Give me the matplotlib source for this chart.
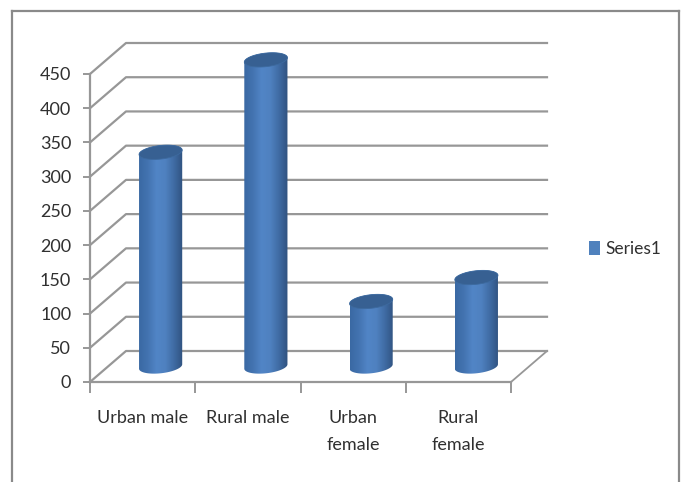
import numpy as np
import matplotlib
matplotlib.use("Agg")
import matplotlib.pyplot as plt
from matplotlib.colors import LinearSegmentedColormap
from matplotlib.lines import Line2D
from matplotlib.patches import Patch, Polygon

categories = ["Urban male", "Rural male", "Urban\nfemale", "Rural\nfemale"]
values = [313, 448, 95, 130]
y_ticks = [0, 50, 100, 150, 200, 250, 300, 350, 400, 450]
series_name = "Series1"

W, H = 684, 482
GRID = "#979797"
TEXT = "#303030"
plt.rcParams["font.family"] = ["Lato", "DejaVu Sans"]

fig = plt.figure(figsize=(W / 100, H / 100), dpi=100)
ax = fig.add_axes([90 / W, (H - 382) / H, 421 / W, 308 / H])
ax.set_xlim(0, 4)
ax.set_ylim(0, 450)

# floor depth, in data units
depth_x = 36 / (421 / 4)
depth_y = 31 / (308 / 450)

# outer chart frame
for xs, ys in [([12, 12], [H, 11]), ([12, 679], [11, 11]), ([679, 679], [11, H])]:
    fig.add_artist(Line2D(np.array(xs) / W, 1 - np.array(ys) / H, color="#8a8a8a", lw=1.6))

# back wall lines and the diagonals running to the front axis
for v in y_ticks:
    ax.plot([0, depth_x, 4 + depth_x], [v, v + depth_y, v + depth_y],
            color=GRID, lw=1.6, clip_on=False, zorder=1)
ax.plot([4, 4 + depth_x], [0, depth_y], color=GRID, lw=1.3, clip_on=False, zorder=1)

cmap = LinearSegmentedColormap.from_list(
    "cyl", ["#3a69a3", "#4373b0", "#5185c6", "#4f81c0", "#3f6ba3", "#30527f"])
grad = np.linspace(0, 1, 256).reshape(1, -1)

t = np.linspace(0, 2 * np.pi, 120)
rx = 0.205
ry = 6.8 / (308 / 450)
tilt = 2.2 / (308 / 450)


def ring(cx, cy, angles):
    # sheared ellipse, the right side sits a little higher than the left
    return np.column_stack([cx + rx * np.cos(angles),
                            cy + ry * np.sin(angles) + tilt * np.cos(angles)])


for i, val in enumerate(values):
    cx = i + 0.5 + depth_x / 2
    base = depth_y / 2
    top = base + val
    lower = ring(cx, base, np.linspace(np.pi, 2 * np.pi, 60))
    upper = ring(cx, top, np.linspace(0, np.pi, 60))
    body = Polygon(np.vstack([lower, upper]), closed=True, transform=ax.transData,
                   fc="none", ec="none")
    ax.add_patch(body)
    img = ax.imshow(grad, cmap=cmap, aspect="auto", zorder=3,
                    extent=[cx - rx, cx + rx, base - ry - tilt, top + ry + tilt])
    img.set_clip_box(fig.bbox)
    img.set_clip_path(body)
    ax.add_patch(Polygon(ring(cx, top, t), closed=True, fc="#376092", ec="#3d6a9f",
                         lw=0.6, clip_on=False, zorder=4))

ax.set_xlim(0, 4)
ax.set_ylim(0, 450)

ax.patch.set_visible(False)
for side in ["top", "right"]:
    ax.spines[side].set_visible(False)
for side in ["left", "bottom"]:
    ax.spines[side].set_color(GRID)
    ax.spines[side].set_linewidth(1.6)

ax.set_yticks(y_ticks)
ax.set_xticks(range(5))
ax.set_xticklabels([])
ax.set_xticks(np.arange(4) + 0.5, labels=categories, minor=True, linespacing=1.85)
ax.tick_params(axis="y", length=5, width=1.4, color=GRID, labelcolor=TEXT, labelsize=13, pad=8.5)
ax.tick_params(axis="x", which="major", length=8, width=1.4, color=GRID)
ax.tick_params(axis="x", which="minor", length=0, labelcolor=TEXT, labelsize=13, pad=20)

fig.legend(handles=[Patch(fc="#4f81bd", label=series_name)], loc="center left",
           bbox_to_anchor=(573 / W, 1 - 249 / H), frameon=False, fontsize=12.5,
           handlelength=0.65, handleheight=0.8, handletextpad=0.3, labelcolor=TEXT)

fig.savefig("out.png", dpi=100)
